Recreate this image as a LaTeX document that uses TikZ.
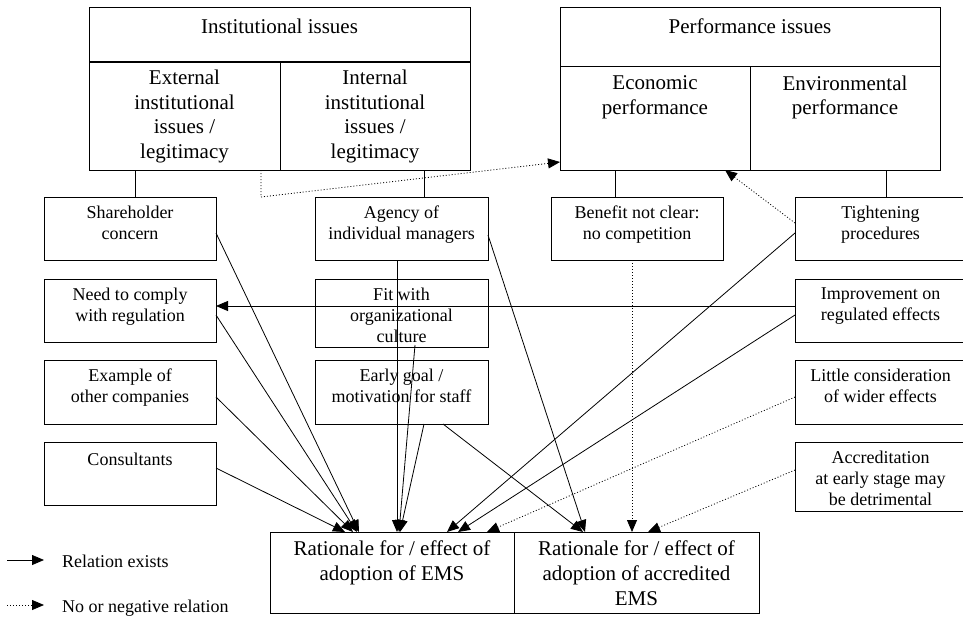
\documentclass[tikz,border=0pt]{standalone}
\usepackage{fontspec}
\setmainfont{Liberation Serif}
\usetikzlibrary{arrows.meta}
\begin{document}
\begin{tikzpicture}[x=1pt,y=-1pt,
 box/.style={draw, line width=1pt, inner sep=0pt, outer sep=0pt},
 bigtxt/.style={font=\fontsize{21}{24.6}\selectfont, align=center, inner sep=0pt, anchor=north, execute at begin node=\strut},
 smalltxt/.style={font=\fontsize{18}{21}\selectfont, align=center, inner sep=0pt, anchor=north, execute at begin node=\strut},
 legtxt/.style={font=\fontsize{18}{21}\selectfont, inner sep=0pt, anchor=base west},
 rel/.style={line width=0.8pt, -{Triangle[length=12pt,width=10pt]}},
 norel/.style={rel, dash pattern=on 1pt off 2pt},
 colL/.style={box, minimum width=172pt},
 colM/.style={box, minimum width=173pt},
 colR/.style={box, minimum width=171pt},
]
\useasboundingbox (0,0) rectangle (963,616);

% top boxes
\node[box, minimum width=381pt, minimum height=55pt] (intitle) at (279.5,34.5) {};
\node[box, minimum width=191pt, minimum height=108pt] (ext) at (184.5,116) {};
\node[box, minimum width=190pt, minimum height=108pt] (int) at (375,116) {};
\draw[line width=2.2pt] (ext.north west) -- (int.north east);
\node[box, minimum width=380pt, minimum height=59pt] (ptitle) at (750,36.5) {};
\node[box, minimum width=190pt, minimum height=104pt] (eco) at (655,118) {};
\node[box, minimum width=190pt, minimum height=104pt] (env) at (845,118) {};

\node[bigtxt] (intitleT) at ([yshift=-8.8pt]intitle.north) {Institutional issues};
\node[bigtxt] (extT) at ([yshift=-7.8pt]ext.north) {External\\institutional\\issues /\\legitimacy};
\node[bigtxt] (intT) at ([yshift=-7.8pt]int.north) {Internal\\institutional\\issues /\\legitimacy};
\node[bigtxt] (ptitleT) at ([yshift=-8.8pt]ptitle.north) {Performance issues};
\node[bigtxt] (ecoT) at ([yshift=-9.3pt]eco.north) {Economic\\performance};
\node[bigtxt] (envT) at ([yshift=-9.3pt]env.north) {Environmental\\performance};

% left column
\node[colL, minimum height=63pt] (share) at (130,228.5) {};
\node[colL, minimum height=63pt] (comply) at (130,310.5) {};
\node[colL, minimum height=64pt] (example) at (130,392) {};
\node[colL, minimum height=63pt] (consult) at (130,473.5) {};
\node[smalltxt] (shareT) at ([yshift=-9pt]share.north) {Shareholder\\concern};
\node[smalltxt] (complyT) at ([yshift=-9pt]comply.north) {Need to comply\\with regulation};
\node[smalltxt] (exampleT) at ([yshift=-9pt]example.north) {Example of\\other companies};
\node[smalltxt] (consultT) at ([yshift=-9pt]consult.north) {Consultants};

% middle column
\node[colM, minimum height=63pt] (agency) at (401.5,228.5) {};
\node[colM, minimum height=68pt] (fit) at (401.5,313) {};
\node[colM, minimum height=64pt] (goal) at (401.5,392) {};
\node[smalltxt] (agencyT) at ([yshift=-9pt]agency.north) {Agency of\\individual managers};
\node[smalltxt] (fitT) at ([yshift=-9pt]fit.north) {Fit with\\organizational\\culture};
\node[smalltxt] (goalT) at ([yshift=-9pt]goal.north) {Early goal /\\motivation for staff};

% benefit
\node[colL, minimum height=63pt] (benefit) at (637,228.5) {};
\node[smalltxt] (benefitT) at ([yshift=-9pt]benefit.north) {Benefit not clear:\\no competition};

% right column
\node[colR, minimum height=63pt] (tight) at (880.5,228.5) {};
\node[colR, minimum height=63pt] (improve) at (880.5,310.5) {};
\node[colR, minimum height=64pt] (little) at (880.5,392) {};
\node[colR, minimum height=69pt] (accr) at (880.5,476.5) {};
\node[smalltxt] (tightT) at ([yshift=-9pt]tight.north) {Tightening\\procedures};
\node[smalltxt] (improveT) at ([yshift=-9pt]improve.north) {Improvement on\\regulated effects};
\node[smalltxt] (littleT) at ([yshift=-9pt]little.north) {Little consideration\\of wider effects};
\node[smalltxt] (accrT) at ([yshift=-9pt]accr.north) {Accreditation\\at early stage may\\be detrimental};

% bottom boxes
\node[box, minimum width=244pt, minimum height=81pt] (emsL) at (392,572.5) {};
\node[box, minimum width=245pt, minimum height=81pt] (emsR) at (636.5,572.5) {};
\node[bigtxt] (emsLT) at ([yshift=-9pt]emsL.north) {Rationale for / effect of\\adoption of EMS};
\node[bigtxt] (emsRT) at ([yshift=-9pt]emsR.north) {Rationale for / effect of\\adoption of accredited\\EMS};

% hierarchy lines
\draw[line width=0.9pt] ([xshift=5pt]share.north) -- ([xshift=5pt]share.north |- ext.south);
\draw[line width=0.9pt] ([xshift=22.5pt]agency.north) -- ([xshift=22.5pt]agency.north |- int.south);
\draw[line width=0.9pt] ([xshift=-22pt]benefit.north) -- ([xshift=-22pt]benefit.north |- eco.south);
\draw[line width=0.9pt] ([xshift=5.5pt]tight.north) -- ([xshift=5.5pt]tight.north |- env.south);

% relations (solid)
\draw[rel] ([yshift=-4.5pt]share.east) -- ([xshift=-33pt]emsL.north);
\draw[rel] ([yshift=-4.5pt]comply.east) -- ([xshift=-35pt]emsL.north);
\draw[rel] ([yshift=-5pt]example.east) -- ([xshift=-39pt]emsL.north);
\draw[rel] ([yshift=5.5pt]consult.east) -- ([xshift=-47pt]emsL.north);
\draw[rel] ([xshift=-4.5pt]agency.south) -- ([xshift=5pt]emsL.north);
\draw[rel] ([xshift=13.5pt,yshift=2pt]fit.south) -- ([xshift=7pt]emsL.north);
\draw[rel] ([xshift=22.5pt]goal.south) -- ([xshift=8pt]emsL.north);
\draw[rel] ([xshift=41.5pt]goal.south) -- ([xshift=-53.5pt]emsR.north);
\draw[rel] ([yshift=-6.5pt]agency.east) -- ([xshift=-51.5pt]emsR.north);
\draw[rel] ([yshift=-4.5pt]tight.west) -- ([xshift=55pt]emsL.north);
\draw[rel] ([yshift=-4.5pt]improve.west) -- ([xshift=66pt]emsL.north);
\draw[rel] ([yshift=4.5pt]improve.west) -- ([yshift=4.5pt]comply.east);

% relations (dotted)
\draw[norel] ([xshift=76.5pt]ext.south) -- ++(0,27) -- ([yshift=-44pt]eco.west);
\draw[norel] ([yshift=5.5pt]tight.west) -- ([xshift=70pt]eco.south);
\draw[norel] ([xshift=-5pt]benefit.south) -- ([xshift=-5pt]benefit.south |- emsR.north);
\draw[norel] ([yshift=-5pt]little.west) -- ([xshift=95pt]emsL.north);
\draw[norel] ([yshift=6.5pt]accr.west) -- ([xshift=11.5pt]emsR.north);

% legend
\coordinate (l1s) at (7,560);
\coordinate (l1e) at (44,560);
\coordinate (l2s) at (7,605);
\coordinate (l2e) at (44,605);
\draw[rel] (l1s) -- (l1e);
\draw[norel] (l2s) -- (l2e);
\node[legtxt] (l1t) at (62,567.5) {Relation exists};
\node[legtxt] (l2t) at (62,612.5) {No or negative relation};
\end{tikzpicture}
\end{document}
